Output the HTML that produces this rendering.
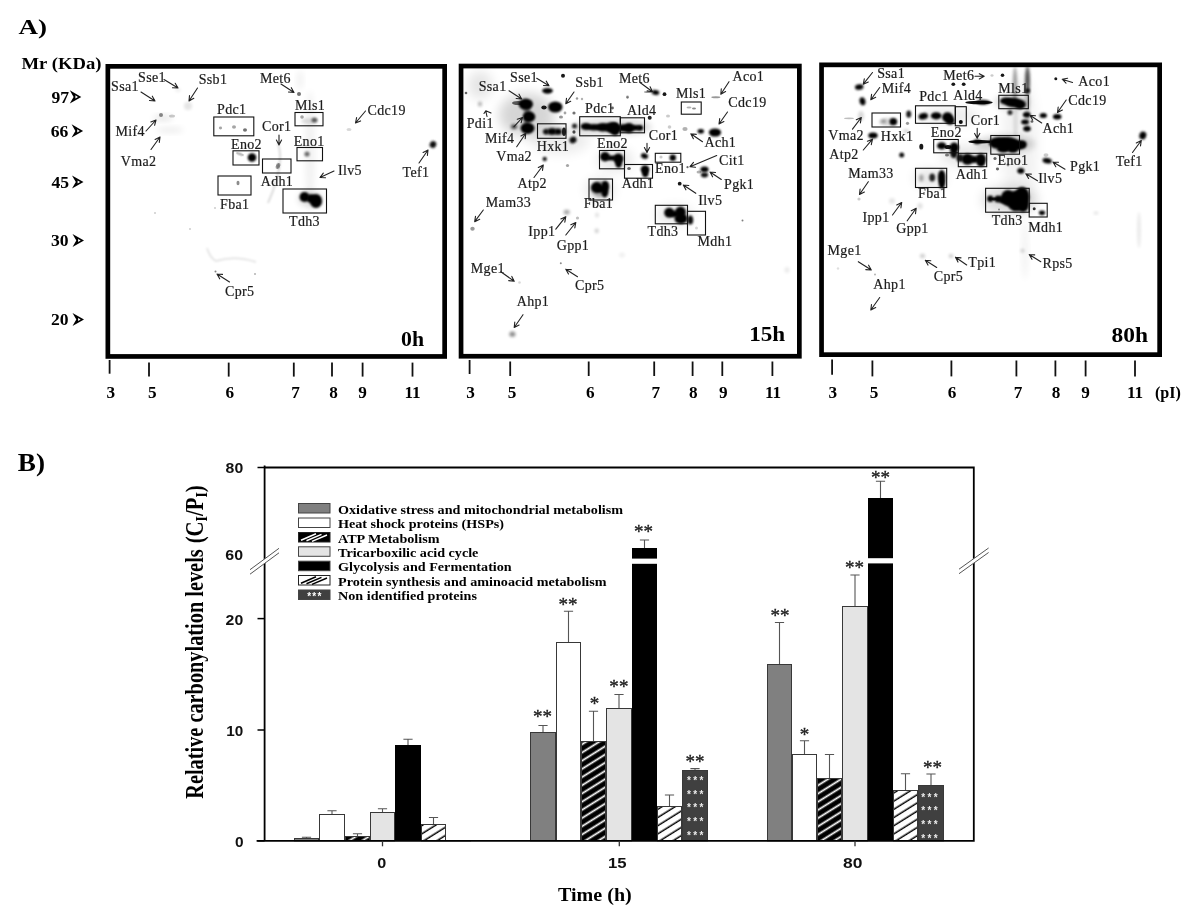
<!DOCTYPE html>
<html lang="en"><head><meta charset="utf-8"><title>Figure</title>
<style>
html,body{margin:0;padding:0;background:#fff;}
body{width:1200px;height:909px;overflow:hidden;}
svg{display:block;}
.g{font-family:"Liberation Serif","Times New Roman",serif;font-size:14px;fill:#1c1c1c;letter-spacing:0.35px;stroke:#1c1c1c;stroke-width:0.2px;}
.b{font-family:"Liberation Serif","Times New Roman",serif;font-weight:bold;fill:#000;}
.s{font-family:"Liberation Sans",Arial,sans-serif;font-weight:bold;fill:#111;}
.ar{stroke:#222;stroke-width:1.1;fill:none;stroke-linecap:round;stroke-linejoin:round;}
.bx{fill:none;stroke:#111;stroke-width:1.1;}
.st{font-family:"Liberation Serif",serif;font-size:19px;fill:#222;stroke:#222;stroke-width:0.35px;}
</style></head><body>
<svg width="1200" height="909" viewBox="0 0 1200 909">
<defs>
<filter id="b0" x="-50%" y="-50%" width="200%" height="200%"><feGaussianBlur stdDeviation="0.5"/></filter>
<filter id="b1" x="-50%" y="-50%" width="200%" height="200%"><feGaussianBlur stdDeviation="0.85"/></filter>
<filter id="b2" x="-50%" y="-50%" width="200%" height="200%"><feGaussianBlur stdDeviation="1.4"/></filter>
<filter id="b3" x="-50%" y="-50%" width="200%" height="200%"><feGaussianBlur stdDeviation="3"/></filter>
<filter id="b4" x="-50%" y="-50%" width="200%" height="200%"><feGaussianBlur stdDeviation="6"/></filter>
<pattern id="hb" width="40" height="6.95" patternUnits="userSpaceOnUse" patternTransform="translate(581 741) rotate(-32)">
<rect width="40" height="6.95" fill="#000"/><rect y="2.5" width="40" height="1.8" fill="#fff"/></pattern>
<pattern id="hw" width="40" height="6.95" patternUnits="userSpaceOnUse" patternTransform="translate(657 806) rotate(-32)">
<rect width="40" height="6.95" fill="#fff"/><rect y="2.5" width="40" height="1.5" fill="#000"/></pattern>
</defs>
<rect width="1200" height="909" fill="#fff"/>

<text class="b" x="18.5" y="34.0" font-size="21.5px" textLength="28.5" lengthAdjust="spacingAndGlyphs">A)</text>
<text class="b" x="17.8" y="471.3" font-size="24.5px" textLength="27.2" lengthAdjust="spacingAndGlyphs">B)</text>
<text class="b" x="21.5" y="69.3" font-size="16.5px" textLength="80" lengthAdjust="spacingAndGlyphs">Mr (KDa)</text>
<text class="b" x="51.5" y="102.7" font-size="17.6px">97</text>
<path d="M69.8,90.3L81.3,96.9L69.8,103.5L73.6,96.9Z M75.4,95.3L78.0,96.9L75.4,98.5Z" fill="#000" fill-rule="evenodd"/>
<text class="b" x="50.7" y="136.7" font-size="17.6px">66</text>
<path d="M71.6,124.3L83.1,130.9L71.6,137.5L75.4,130.9Z M77.2,129.3L79.8,130.9L77.2,132.5Z" fill="#000" fill-rule="evenodd"/>
<text class="b" x="51.5" y="187.8" font-size="17.6px">45</text>
<path d="M72.0,175.4L83.5,182.0L72.0,188.6L75.8,182.0Z M77.6,180.4L80.2,182.0L77.6,183.6Z" fill="#000" fill-rule="evenodd"/>
<text class="b" x="51.0" y="246.3" font-size="17.6px">30</text>
<path d="M72.5,233.9L84.0,240.5L72.5,247.1L76.3,240.5Z M78.1,238.9L80.7,240.5L78.1,242.1Z" fill="#000" fill-rule="evenodd"/>
<text class="b" x="51.0" y="325.3" font-size="17.6px">20</text>
<path d="M72.5,312.9L84.0,319.5L72.5,326.1L76.3,319.5Z M78.1,317.9L80.7,319.5L78.1,321.1Z" fill="#000" fill-rule="evenodd"/>
<clipPath id="cp"><rect x="108" y="66" width="337" height="291"/><rect x="461" y="66" width="339" height="291"/><rect x="821" y="65" width="339" height="290"/></clipPath>
<g id="gels" clip-path="url(#cp)">
<ellipse cx="163.0" cy="118.0" rx="10.0" ry="3.0" fill="#000" opacity="0.1" filter="url(#b3)"/>
<ellipse cx="170.0" cy="130.0" rx="14.0" ry="3.0" fill="#000" opacity="0.07" filter="url(#b3)"/>
<ellipse cx="188.0" cy="106.0" rx="4.0" ry="4.0" fill="#000" opacity="0.1" filter="url(#b2)"/>
<ellipse cx="178.0" cy="90.0" rx="3.0" ry="2.0" fill="#000" opacity="0.06" filter="url(#b2)"/>
<ellipse cx="310.0" cy="150.0" rx="5.0" ry="60.0" fill="#000" opacity="0.05" filter="url(#b3)"/>
<ellipse cx="300.0" cy="80.0" rx="3.0" ry="10.0" fill="#000" opacity="0.06" filter="url(#b3)"/>
<path d="M278,143 Q285,165 268,203" stroke="#000" stroke-opacity="0.16" stroke-width="1.8" fill="none" filter="url(#b1)"/>
<path d="M207,248 Q210,258 216,261 Q235,255 256,262" stroke="#000" stroke-opacity="0.13" stroke-width="1.5" fill="none" filter="url(#b1)"/>
<ellipse cx="527.0" cy="115.0" rx="28.0" ry="22.0" fill="#000" opacity="0.16" filter="url(#b4)"/>
<ellipse cx="612.0" cy="127.0" rx="40.0" ry="8.0" fill="#000" opacity="0.14" filter="url(#b3)"/>
<ellipse cx="480.0" cy="85.0" rx="12.0" ry="14.0" fill="#000" opacity="0.1" filter="url(#b4)"/>
<ellipse cx="560.0" cy="140.0" rx="30.0" ry="14.0" fill="#000" opacity="0.07" filter="url(#b4)"/>
<ellipse cx="615.0" cy="160.0" rx="18.0" ry="12.0" fill="#000" opacity="0.09" filter="url(#b4)"/>
<ellipse cx="600.0" cy="190.0" rx="14.0" ry="12.0" fill="#000" opacity="0.1" filter="url(#b4)"/>
<ellipse cx="675.0" cy="215.0" rx="18.0" ry="9.0" fill="#000" opacity="0.1" filter="url(#b4)"/>
<ellipse cx="1015.0" cy="84.0" rx="2.2" ry="17.0" fill="#000" opacity="0.36" filter="url(#b2)"/>
<ellipse cx="1015.5" cy="120.0" rx="2.0" ry="20.0" fill="#000" opacity="0.1" filter="url(#b2)"/>
<ellipse cx="1027.5" cy="80.0" rx="2.4" ry="14.0" fill="#000" opacity="0.62" filter="url(#b2)"/>
<ellipse cx="1027.5" cy="100.0" rx="2.2" ry="30.0" fill="#000" opacity="0.2" filter="url(#b2)"/>
<ellipse cx="1020.0" cy="145.0" rx="18.0" ry="70.0" fill="#000" opacity="0.05" filter="url(#b4)"/>
<ellipse cx="1005.0" cy="144.0" rx="30.0" ry="9.0" fill="#000" opacity="0.16" filter="url(#b3)"/>
<ellipse cx="1010.0" cy="200.0" rx="28.0" ry="14.0" fill="#000" opacity="0.14" filter="url(#b4)"/>
<ellipse cx="1012.0" cy="102.0" rx="18.0" ry="7.0" fill="#000" opacity="0.14" filter="url(#b3)"/>
<ellipse cx="950.0" cy="116.0" rx="30.0" ry="8.0" fill="#000" opacity="0.08" filter="url(#b4)"/>
<ellipse cx="965.0" cy="156.0" rx="25.0" ry="10.0" fill="#000" opacity="0.1" filter="url(#b4)"/>
<ellipse cx="930.0" cy="178.0" rx="16.0" ry="9.0" fill="#000" opacity="0.1" filter="url(#b4)"/>
<ellipse cx="1139.0" cy="230.0" rx="2.0" ry="18.0" fill="#000" opacity="0.08" filter="url(#b2)"/>
<ellipse cx="1025.0" cy="250.0" rx="3.0" ry="30.0" fill="#000" opacity="0.05" filter="url(#b3)"/>
<ellipse cx="304.5" cy="197.0" rx="5.0" ry="5.0" fill="#000" opacity="1" filter="url(#b1)"/>
<ellipse cx="316.0" cy="201.0" rx="6.1" ry="7.0" fill="#000" opacity="1" filter="url(#b1)"/>
<ellipse cx="311.0" cy="198.5" rx="4.7" ry="4.2" fill="#000" opacity="1" filter="url(#b1)"/>
<ellipse cx="310.0" cy="199.0" rx="12.0" ry="8.0" fill="#000" opacity="0.12" filter="url(#b3)"/>
<ellipse cx="252.0" cy="157.5" rx="4.3" ry="4.3" fill="#000" opacity="1" filter="url(#b1)"/>
<ellipse cx="240.0" cy="154.0" rx="4.0" ry="1.5" fill="#000" opacity="0.25" filter="url(#b0)" transform="rotate(20 240.0 154.0)"/>
<ellipse cx="433.0" cy="144.5" rx="3.2" ry="3.6" fill="#000" opacity="0.95" filter="url(#b1)" transform="rotate(30 433.0 144.5)"/>
<ellipse cx="314.5" cy="120.0" rx="3.0" ry="2.6" fill="#000" opacity="0.6" filter="url(#b1)"/>
<ellipse cx="302.0" cy="117.0" rx="1.8" ry="1.8" fill="#000" opacity="0.35" filter="url(#b0)"/>
<ellipse cx="309.0" cy="121.0" rx="8.0" ry="3.0" fill="#000" opacity="0.12" filter="url(#b2)"/>
<ellipse cx="220.5" cy="128.0" rx="1.6" ry="1.4" fill="#000" opacity="0.35" filter="url(#b0)"/>
<ellipse cx="234.0" cy="127.0" rx="2.0" ry="1.7" fill="#000" opacity="0.35" filter="url(#b0)"/>
<ellipse cx="245.0" cy="130.0" rx="2.0" ry="1.8" fill="#000" opacity="0.55" filter="url(#b0)"/>
<ellipse cx="307.0" cy="154.0" rx="2.6" ry="2.6" fill="#000" opacity="0.55" filter="url(#b1)"/>
<ellipse cx="278.0" cy="166.0" rx="2.0" ry="3.0" fill="#000" opacity="0.5" filter="url(#b0)" transform="rotate(20 278.0 166.0)"/>
<ellipse cx="238.0" cy="183.0" rx="1.5" ry="2.2" fill="#000" opacity="0.45" filter="url(#b0)"/>
<ellipse cx="299.0" cy="94.0" rx="2.0" ry="2.0" fill="#000" opacity="0.55" filter="url(#b0)"/>
<ellipse cx="161.0" cy="115.0" rx="2.0" ry="2.0" fill="#000" opacity="0.45" filter="url(#b0)"/>
<ellipse cx="172.0" cy="116.0" rx="3.0" ry="1.5" fill="#000" opacity="0.2" filter="url(#b0)"/>
<ellipse cx="349.0" cy="129.5" rx="2.5" ry="1.5" fill="#000" opacity="0.15" filter="url(#b0)"/>
<ellipse cx="215.5" cy="271.5" rx="1.0" ry="1.0" fill="#000" opacity="0.5" filter="url(#b0)"/>
<ellipse cx="255.0" cy="274.0" rx="1.0" ry="1.0" fill="#000" opacity="0.3" filter="url(#b0)"/>
<ellipse cx="215.0" cy="208.0" rx="1.0" ry="1.0" fill="#000" opacity="0.2" filter="url(#b0)"/>
<ellipse cx="155.0" cy="213.0" rx="1.0" ry="1.0" fill="#000" opacity="0.2" filter="url(#b0)"/>
<ellipse cx="190.0" cy="229.0" rx="1.0" ry="1.0" fill="#000" opacity="0.2" filter="url(#b0)"/>
<ellipse cx="547.5" cy="90.8" rx="5.4" ry="2.9" fill="#000" opacity="1" filter="url(#b1)"/>
<ellipse cx="525.8" cy="104.2" rx="7.2" ry="5.6" fill="#000" opacity="1" filter="url(#b1)"/>
<ellipse cx="518.0" cy="103.0" rx="6.0" ry="2.0" fill="#000" opacity="0.6" filter="url(#b0)"/>
<ellipse cx="555.3" cy="107.0" rx="7.2" ry="5.6" fill="#000" opacity="1" filter="url(#b1)"/>
<ellipse cx="544.0" cy="107.5" rx="2.7" ry="2.0" fill="#000" opacity="0.9" filter="url(#b0)"/>
<ellipse cx="529.0" cy="116.7" rx="6.3" ry="5.4" fill="#000" opacity="1" filter="url(#b1)"/>
<ellipse cx="527.5" cy="128.3" rx="7.0" ry="5.6" fill="#000" opacity="1" filter="url(#b1)"/>
<ellipse cx="514.0" cy="126.7" rx="3.0" ry="2.2" fill="#000" opacity="0.75" filter="url(#b2)"/>
<ellipse cx="527.0" cy="110.0" rx="3.0" ry="8.0" fill="#000" opacity="0.5" filter="url(#b2)"/>
<ellipse cx="527.0" cy="122.0" rx="3.0" ry="6.0" fill="#000" opacity="0.5" filter="url(#b2)"/>
<ellipse cx="563.0" cy="75.8" rx="2.0" ry="2.0" fill="#000" opacity="0.9" filter="url(#b0)"/>
<ellipse cx="574.0" cy="113.0" rx="1.6" ry="1.6" fill="#000" opacity="0.55" filter="url(#b0)"/>
<ellipse cx="574.5" cy="126.0" rx="2.5" ry="2.5" fill="#000" opacity="0.85" filter="url(#b1)"/>
<ellipse cx="574.0" cy="132.0" rx="1.6" ry="1.8" fill="#000" opacity="0.7" filter="url(#b0)"/>
<ellipse cx="573.0" cy="140.0" rx="3.6" ry="3.2" fill="#000" opacity="0.95" filter="url(#b1)" transform="rotate(-30 573.0 140.0)"/>
<ellipse cx="561.0" cy="117.0" rx="2.0" ry="1.6" fill="#000" opacity="0.4" filter="url(#b0)"/>
<ellipse cx="565.0" cy="113.0" rx="1.4" ry="1.4" fill="#000" opacity="0.35" filter="url(#b0)"/>
<ellipse cx="577.0" cy="98.5" rx="1.2" ry="1.2" fill="#000" opacity="0.4" filter="url(#b0)"/>
<ellipse cx="582.0" cy="99.0" rx="1.2" ry="1.2" fill="#000" opacity="0.3" filter="url(#b0)"/>
<ellipse cx="612.5" cy="108.0" rx="1.4" ry="1.4" fill="#000" opacity="0.6" filter="url(#b0)"/>
<ellipse cx="627.5" cy="97.0" rx="1.4" ry="1.4" fill="#000" opacity="0.35" filter="url(#b0)"/>
<ellipse cx="466.0" cy="93.0" rx="1.3" ry="1.3" fill="#000" opacity="0.6" filter="url(#b0)"/>
<ellipse cx="480.0" cy="104.0" rx="2.0" ry="2.5" fill="#000" opacity="0.3" filter="url(#b2)"/>
<ellipse cx="546.0" cy="131.7" rx="2.9" ry="2.7" fill="#000" opacity="0.9" filter="url(#b1)"/>
<ellipse cx="552.0" cy="131.5" rx="4.2" ry="3.2" fill="#000" opacity="1" filter="url(#b1)"/>
<ellipse cx="558.0" cy="131.7" rx="3.6" ry="2.9" fill="#000" opacity="1" filter="url(#b1)"/>
<ellipse cx="564.0" cy="131.7" rx="2.0" ry="4.3" fill="#000" opacity="0.85" filter="url(#b0)"/>
<ellipse cx="555.0" cy="131.5" rx="12.0" ry="4.5" fill="#000" opacity="0.25" filter="url(#b2)"/>
<ellipse cx="586.0" cy="126.5" rx="5.3" ry="3.4" fill="#000" opacity="1" filter="url(#b1)"/>
<ellipse cx="594.0" cy="127.2" rx="7.0" ry="3.2" fill="#000" opacity="1" filter="url(#b1)"/>
<ellipse cx="603.0" cy="127.3" rx="7.0" ry="4.3" fill="#000" opacity="1" filter="url(#b1)"/>
<ellipse cx="612.0" cy="127.5" rx="7.0" ry="5.6" fill="#000" opacity="1" filter="url(#b1)"/>
<ellipse cx="615.0" cy="129.0" rx="5.3" ry="6.4" fill="#000" opacity="1" filter="url(#b1)"/>
<ellipse cx="623.0" cy="128.0" rx="5.9" ry="3.8" fill="#000" opacity="1" filter="url(#b1)"/>
<ellipse cx="629.0" cy="128.0" rx="5.3" ry="5.0" fill="#000" opacity="1" filter="url(#b1)"/>
<ellipse cx="635.0" cy="127.8" rx="4.7" ry="2.7" fill="#000" opacity="1" filter="url(#b1)"/>
<ellipse cx="640.0" cy="127.8" rx="3.2" ry="2.9" fill="#000" opacity="1" filter="url(#b1)"/>
<ellipse cx="605.0" cy="156.7" rx="5.0" ry="4.7" fill="#000" opacity="1" filter="url(#b1)"/>
<ellipse cx="611.5" cy="158.0" rx="4.7" ry="2.5" fill="#000" opacity="1" filter="url(#b1)"/>
<ellipse cx="618.3" cy="158.5" rx="5.2" ry="5.0" fill="#000" opacity="1" filter="url(#b1)"/>
<ellipse cx="618.6" cy="163.0" rx="3.4" ry="5.0" fill="#000" opacity="1" filter="url(#b1)"/>
<ellipse cx="645.0" cy="169.3" rx="4.3" ry="4.1" fill="#000" opacity="1" filter="url(#b1)"/>
<ellipse cx="645.3" cy="173.0" rx="3.2" ry="4.3" fill="#000" opacity="1" filter="url(#b1)"/>
<ellipse cx="629.0" cy="168.5" rx="1.8" ry="1.6" fill="#000" opacity="0.6" filter="url(#b0)"/>
<ellipse cx="596.7" cy="187.5" rx="5.6" ry="5.4" fill="#000" opacity="1" filter="url(#b1)"/>
<ellipse cx="601.0" cy="189.0" rx="4.7" ry="3.6" fill="#000" opacity="1" filter="url(#b1)"/>
<ellipse cx="605.2" cy="186.0" rx="3.8" ry="5.2" fill="#000" opacity="1" filter="url(#b1)"/>
<ellipse cx="604.8" cy="192.0" rx="3.4" ry="5.4" fill="#000" opacity="1" filter="url(#b1)"/>
<ellipse cx="600.0" cy="189.0" rx="9.0" ry="8.0" fill="#000" opacity="0.3" filter="url(#b2)"/>
<ellipse cx="544.7" cy="159.0" rx="2.2" ry="2.2" fill="#000" opacity="0.9" filter="url(#b1)"/>
<ellipse cx="567.5" cy="165.5" rx="1.6" ry="1.6" fill="#000" opacity="0.35" filter="url(#b0)"/>
<ellipse cx="644.5" cy="156.0" rx="3.6" ry="2.7" fill="#000" opacity="1" filter="url(#b1)" transform="rotate(20 644.5 156.0)"/>
<ellipse cx="672.8" cy="157.8" rx="3.2" ry="3.2" fill="#000" opacity="1" filter="url(#b1)"/>
<ellipse cx="661.0" cy="157.0" rx="1.6" ry="1.6" fill="#000" opacity="0.2" filter="url(#b0)"/>
<ellipse cx="655.5" cy="92.5" rx="3.8" ry="2.4" fill="#000" opacity="1" filter="url(#b1)" transform="rotate(10 655.5 92.5)"/>
<ellipse cx="648.0" cy="92.0" rx="4.0" ry="1.0" fill="#000" opacity="0.4" filter="url(#b0)"/>
<ellipse cx="664.5" cy="94.2" rx="1.9" ry="1.9" fill="#000" opacity="0.9" filter="url(#b0)"/>
<ellipse cx="627.5" cy="97.5" rx="1.2" ry="1.2" fill="#000" opacity="0.3" filter="url(#b0)"/>
<ellipse cx="689.0" cy="107.5" rx="2.5" ry="0.9" fill="#000" opacity="0.3" filter="url(#b0)"/>
<ellipse cx="694.0" cy="108.5" rx="2.0" ry="1.0" fill="#000" opacity="0.45" filter="url(#b0)"/>
<ellipse cx="715.8" cy="97.2" rx="4.5" ry="1.0" fill="#000" opacity="0.4" filter="url(#b0)"/>
<ellipse cx="715.0" cy="132.5" rx="6.1" ry="4.1" fill="#000" opacity="1" filter="url(#b1)"/>
<ellipse cx="700.8" cy="131.2" rx="3.2" ry="2.3" fill="#000" opacity="1" filter="url(#b1)"/>
<ellipse cx="685.0" cy="129.0" rx="2.6" ry="2.0" fill="#000" opacity="0.3" filter="url(#b0)"/>
<ellipse cx="649.7" cy="117.8" rx="2.0" ry="2.0" fill="#000" opacity="0.85" filter="url(#b0)"/>
<ellipse cx="668.0" cy="116.0" rx="2.0" ry="1.6" fill="#000" opacity="0.2" filter="url(#b0)"/>
<ellipse cx="669.5" cy="127.0" rx="1.8" ry="1.8" fill="#000" opacity="0.2" filter="url(#b0)"/>
<ellipse cx="704.5" cy="169.3" rx="4.1" ry="2.9" fill="#000" opacity="1" filter="url(#b1)"/>
<ellipse cx="704.5" cy="175.0" rx="3.6" ry="2.4" fill="#000" opacity="0.95" filter="url(#b1)"/>
<ellipse cx="699.0" cy="172.0" rx="2.5" ry="1.5" fill="#000" opacity="0.3" filter="url(#b0)"/>
<ellipse cx="679.7" cy="183.7" rx="1.9" ry="1.9" fill="#000" opacity="0.9" filter="url(#b0)"/>
<ellipse cx="687.5" cy="167.2" rx="1.1" ry="1.1" fill="#000" opacity="0.6" filter="url(#b0)"/>
<ellipse cx="669.2" cy="212.8" rx="5.0" ry="5.0" fill="#000" opacity="1" filter="url(#b1)"/>
<ellipse cx="674.5" cy="214.0" rx="4.7" ry="3.2" fill="#000" opacity="1" filter="url(#b1)"/>
<ellipse cx="680.5" cy="212.0" rx="5.4" ry="5.4" fill="#000" opacity="1" filter="url(#b1)"/>
<ellipse cx="681.0" cy="218.5" rx="6.5" ry="5.4" fill="#000" opacity="1" filter="url(#b1)"/>
<ellipse cx="690.3" cy="220.0" rx="2.9" ry="4.5" fill="#000" opacity="0.95" filter="url(#b1)"/>
<ellipse cx="742.5" cy="220.5" rx="1.0" ry="1.0" fill="#000" opacity="0.5" filter="url(#b0)"/>
<ellipse cx="696.5" cy="228.0" rx="1.5" ry="1.5" fill="#000" opacity="0.15" filter="url(#b0)"/>
<ellipse cx="472.5" cy="228.7" rx="2.2" ry="2.0" fill="#000" opacity="0.4" filter="url(#b0)"/>
<ellipse cx="566.7" cy="212.2" rx="3.0" ry="2.4" fill="#000" opacity="0.35" filter="url(#b2)"/>
<ellipse cx="577.5" cy="218.0" rx="1.6" ry="1.6" fill="#000" opacity="0.25" filter="url(#b0)"/>
<ellipse cx="596.7" cy="230.8" rx="2.0" ry="2.4" fill="#000" opacity="0.2" filter="url(#b2)"/>
<ellipse cx="597.0" cy="215.0" rx="1.8" ry="2.5" fill="#000" opacity="0.13" filter="url(#b2)"/>
<ellipse cx="560.8" cy="263.3" rx="1.0" ry="1.0" fill="#000" opacity="0.45" filter="url(#b0)"/>
<ellipse cx="519.5" cy="282.5" rx="1.3" ry="1.3" fill="#000" opacity="0.15" filter="url(#b0)"/>
<ellipse cx="512.4" cy="334.2" rx="3.0" ry="2.6" fill="#000" opacity="0.45" filter="url(#b2)"/>
<ellipse cx="622.0" cy="255.0" rx="3.0" ry="2.5" fill="#000" opacity="0.06" filter="url(#b2)"/>
<ellipse cx="787.0" cy="270.0" rx="2.5" ry="3.0" fill="#000" opacity="0.08" filter="url(#b2)"/>
<ellipse cx="859.2" cy="87.0" rx="4.3" ry="2.8" fill="#000" opacity="1" filter="url(#b1)" transform="rotate(-8 859.2 87.0)"/>
<ellipse cx="862.5" cy="101.3" rx="2.9" ry="4.1" fill="#000" opacity="1" filter="url(#b1)" transform="rotate(-15 862.5 101.3)"/>
<ellipse cx="849.0" cy="118.3" rx="5.0" ry="0.9" fill="#000" opacity="0.25" filter="url(#b0)"/>
<ellipse cx="861.0" cy="116.0" rx="3.0" ry="5.0" fill="#000" opacity="0.15" filter="url(#b2)"/>
<ellipse cx="873.0" cy="135.5" rx="4.7" ry="2.9" fill="#000" opacity="1" filter="url(#b1)"/>
<ellipse cx="893.3" cy="121.7" rx="3.8" ry="3.6" fill="#000" opacity="1" filter="url(#b1)"/>
<ellipse cx="883.5" cy="121.3" rx="2.6" ry="2.0" fill="#000" opacity="0.35" filter="url(#b2)"/>
<ellipse cx="888.0" cy="122.0" rx="9.0" ry="4.0" fill="#000" opacity="0.15" filter="url(#b2)"/>
<ellipse cx="908.7" cy="114.2" rx="2.5" ry="3.6" fill="#000" opacity="0.9" filter="url(#b1)"/>
<ellipse cx="907.5" cy="123.3" rx="1.6" ry="1.6" fill="#000" opacity="0.4" filter="url(#b0)"/>
<ellipse cx="906.0" cy="131.0" rx="3.0" ry="2.0" fill="#000" opacity="0.15" filter="url(#b2)"/>
<ellipse cx="923.3" cy="116.3" rx="4.7" ry="3.2" fill="#000" opacity="1" filter="url(#b1)" transform="rotate(-12 923.3 116.3)"/>
<ellipse cx="936.2" cy="115.8" rx="5.4" ry="3.6" fill="#000" opacity="1" filter="url(#b1)"/>
<ellipse cx="947.5" cy="117.2" rx="5.4" ry="5.0" fill="#000" opacity="1" filter="url(#b1)"/>
<ellipse cx="950.0" cy="120.5" rx="4.5" ry="4.3" fill="#000" opacity="1" filter="url(#b1)"/>
<ellipse cx="960.8" cy="122.0" rx="2.0" ry="2.0" fill="#000" opacity="0.95" filter="url(#b0)"/>
<ellipse cx="953.3" cy="84.2" rx="1.9" ry="1.7" fill="#000" opacity="0.9" filter="url(#b0)"/>
<ellipse cx="963.7" cy="84.2" rx="1.9" ry="1.7" fill="#000" opacity="0.9" filter="url(#b0)"/>
<ellipse cx="1002.5" cy="75.3" rx="1.8" ry="1.8" fill="#000" opacity="0.9" filter="url(#b0)"/>
<ellipse cx="992.0" cy="75.5" rx="1.6" ry="1.2" fill="#000" opacity="0.2" filter="url(#b0)"/>
<ellipse cx="979.0" cy="102.5" rx="13.7" ry="1.7" fill="#000" opacity="0.95" filter="url(#b0)"/>
<ellipse cx="983.0" cy="102.3" rx="7.0" ry="2.5" fill="#000" opacity="0.9" filter="url(#b1)"/>
<ellipse cx="1006.0" cy="101.0" rx="5.9" ry="3.6" fill="#000" opacity="1" filter="url(#b1)"/>
<ellipse cx="1013.0" cy="102.5" rx="8.1" ry="4.7" fill="#000" opacity="1" filter="url(#b1)"/>
<ellipse cx="1020.0" cy="104.5" rx="5.9" ry="4.7" fill="#000" opacity="1" filter="url(#b1)"/>
<ellipse cx="1027.5" cy="90.8" rx="2.5" ry="2.5" fill="#000" opacity="0.9" filter="url(#b1)"/>
<ellipse cx="1010.0" cy="112.5" rx="2.5" ry="2.5" fill="#000" opacity="0.85" filter="url(#b1)"/>
<ellipse cx="1026.7" cy="114.7" rx="3.8" ry="2.7" fill="#000" opacity="1" filter="url(#b1)"/>
<ellipse cx="1025.0" cy="122.0" rx="3.8" ry="2.5" fill="#000" opacity="1" filter="url(#b1)"/>
<ellipse cx="1027.0" cy="128.7" rx="3.8" ry="2.7" fill="#000" opacity="1" filter="url(#b1)"/>
<ellipse cx="1032.0" cy="121.5" rx="1.4" ry="1.2" fill="#000" opacity="0.6" filter="url(#b0)"/>
<ellipse cx="1043.3" cy="115.5" rx="3.6" ry="2.5" fill="#000" opacity="1" filter="url(#b1)"/>
<ellipse cx="1057.2" cy="116.7" rx="4.3" ry="2.7" fill="#000" opacity="1" filter="url(#b1)"/>
<ellipse cx="1055.8" cy="78.7" rx="1.5" ry="1.5" fill="#000" opacity="0.9" filter="url(#b0)"/>
<ellipse cx="1142.8" cy="135.5" rx="3.4" ry="4.1" fill="#000" opacity="1" filter="url(#b1)" transform="rotate(20 1142.8 135.5)"/>
<ellipse cx="941.7" cy="145.8" rx="4.7" ry="3.6" fill="#000" opacity="1" filter="url(#b1)"/>
<ellipse cx="948.0" cy="147.0" rx="3.6" ry="2.0" fill="#000" opacity="0.9" filter="url(#b0)"/>
<ellipse cx="954.2" cy="147.5" rx="4.7" ry="5.0" fill="#000" opacity="1" filter="url(#b1)"/>
<ellipse cx="953.8" cy="153.5" rx="3.6" ry="4.7" fill="#000" opacity="0.95" filter="url(#b1)"/>
<ellipse cx="947.0" cy="155.0" rx="2.0" ry="1.6" fill="#000" opacity="0.5" filter="url(#b0)"/>
<ellipse cx="921.3" cy="146.7" rx="2.0" ry="2.9" fill="#000" opacity="0.9" filter="url(#b0)"/>
<ellipse cx="901.7" cy="155.0" rx="2.5" ry="2.5" fill="#000" opacity="0.95" filter="url(#b1)"/>
<ellipse cx="967.5" cy="159.2" rx="5.9" ry="5.6" fill="#000" opacity="1" filter="url(#b1)"/>
<ellipse cx="974.0" cy="159.5" rx="4.7" ry="3.6" fill="#000" opacity="1" filter="url(#b1)"/>
<ellipse cx="980.8" cy="159.2" rx="5.2" ry="5.6" fill="#000" opacity="1" filter="url(#b1)"/>
<ellipse cx="981.0" cy="163.0" rx="3.6" ry="3.6" fill="#000" opacity="1" filter="url(#b1)"/>
<ellipse cx="960.0" cy="158.0" rx="3.6" ry="4.1" fill="#000" opacity="0.9" filter="url(#b1)"/>
<ellipse cx="981.0" cy="141.8" rx="12.6" ry="1.7" fill="#000" opacity="0.95" filter="url(#b0)"/>
<ellipse cx="977.0" cy="141.8" rx="3.6" ry="2.5" fill="#000" opacity="0.9" filter="url(#b1)"/>
<ellipse cx="999.0" cy="143.0" rx="10.3" ry="5.9" fill="#000" opacity="1" filter="url(#b1)"/>
<ellipse cx="1008.0" cy="144.0" rx="10.3" ry="7.0" fill="#000" opacity="1" filter="url(#b1)"/>
<ellipse cx="1016.0" cy="145.0" rx="8.1" ry="5.2" fill="#000" opacity="1" filter="url(#b1)"/>
<ellipse cx="1022.5" cy="144.5" rx="4.3" ry="4.1" fill="#000" opacity="1" filter="url(#b1)"/>
<ellipse cx="1003.0" cy="149.0" rx="5.9" ry="3.6" fill="#000" opacity="1" filter="url(#b1)"/>
<ellipse cx="1013.0" cy="149.5" rx="4.7" ry="3.2" fill="#000" opacity="1" filter="url(#b1)"/>
<ellipse cx="995.0" cy="158.5" rx="1.6" ry="1.6" fill="#000" opacity="0.6" filter="url(#b0)"/>
<ellipse cx="1047.2" cy="160.8" rx="4.7" ry="2.7" fill="#000" opacity="1" filter="url(#b1)" transform="rotate(10 1047.2 160.8)"/>
<ellipse cx="1046.0" cy="155.0" rx="2.5" ry="1.8" fill="#000" opacity="0.2" filter="url(#b0)"/>
<ellipse cx="1020.8" cy="170.8" rx="3.6" ry="2.9" fill="#000" opacity="1" filter="url(#b1)"/>
<ellipse cx="997.5" cy="169.0" rx="1.6" ry="1.4" fill="#000" opacity="0.6" filter="url(#b0)"/>
<ellipse cx="1008.0" cy="165.0" rx="1.4" ry="1.4" fill="#000" opacity="0.4" filter="url(#b0)"/>
<ellipse cx="921.3" cy="178.0" rx="2.0" ry="3.4" fill="#000" opacity="0.35" filter="url(#b2)"/>
<ellipse cx="932.2" cy="177.5" rx="2.9" ry="4.1" fill="#000" opacity="0.85" filter="url(#b1)"/>
<ellipse cx="941.7" cy="177.0" rx="3.8" ry="7.0" fill="#000" opacity="1" filter="url(#b1)"/>
<ellipse cx="941.9" cy="183.5" rx="3.2" ry="5.2" fill="#000" opacity="1" filter="url(#b1)"/>
<ellipse cx="990.3" cy="198.7" rx="3.2" ry="3.2" fill="#000" opacity="1" filter="url(#b1)"/>
<ellipse cx="998.3" cy="199.0" rx="4.1" ry="3.6" fill="#000" opacity="1" filter="url(#b1)"/>
<ellipse cx="994.0" cy="199.0" rx="3.0" ry="1.4" fill="#000" opacity="0.8" filter="url(#b0)"/>
<ellipse cx="1008.0" cy="198.0" rx="7.0" ry="8.1" fill="#000" opacity="1" filter="url(#b1)"/>
<ellipse cx="1016.0" cy="201.0" rx="9.2" ry="10.3" fill="#000" opacity="1" filter="url(#b1)"/>
<ellipse cx="1022.0" cy="197.0" rx="7.5" ry="10.3" fill="#000" opacity="1" filter="url(#b1)"/>
<ellipse cx="1023.0" cy="205.0" rx="5.9" ry="7.0" fill="#000" opacity="1" filter="url(#b1)"/>
<ellipse cx="1003.0" cy="200.0" rx="3.6" ry="3.6" fill="#000" opacity="1" filter="url(#b1)"/>
<ellipse cx="999.0" cy="209.5" rx="1.0" ry="1.0" fill="#000" opacity="0.4" filter="url(#b0)"/>
<ellipse cx="1034.2" cy="208.7" rx="1.5" ry="1.5" fill="#000" opacity="0.8" filter="url(#b0)"/>
<ellipse cx="1042.0" cy="212.8" rx="3.1" ry="2.4" fill="#000" opacity="1" filter="url(#b1)"/>
<ellipse cx="859.0" cy="199.0" rx="1.6" ry="1.6" fill="#000" opacity="0.2" filter="url(#b0)"/>
<ellipse cx="892.0" cy="201.0" rx="3.0" ry="3.0" fill="#000" opacity="0.1" filter="url(#b2)"/>
<ellipse cx="920.0" cy="206.0" rx="2.5" ry="3.0" fill="#000" opacity="0.12" filter="url(#b2)"/>
<ellipse cx="922.5" cy="256.0" rx="2.6" ry="2.2" fill="#000" opacity="0.2" filter="url(#b2)"/>
<ellipse cx="951.0" cy="256.0" rx="2.2" ry="2.0" fill="#000" opacity="0.22" filter="url(#b2)"/>
<ellipse cx="1022.5" cy="250.8" rx="2.0" ry="2.0" fill="#000" opacity="0.18" filter="url(#b2)"/>
<ellipse cx="875.0" cy="274.5" rx="1.0" ry="1.0" fill="#000" opacity="0.3" filter="url(#b0)"/>
<ellipse cx="1096.0" cy="213.0" rx="2.5" ry="1.5" fill="#000" opacity="0.12" filter="url(#b2)"/>
<ellipse cx="838.0" cy="268.5" rx="1.2" ry="1.2" fill="#000" opacity="0.12" filter="url(#b0)"/>
</g>
<g id="frames">
<rect x="107.85" y="66.35" width="336.80" height="290.10" fill="none" stroke="#000" stroke-width="4.7"/>
<rect x="461.05" y="66.05" width="338.30" height="290.20" fill="none" stroke="#000" stroke-width="4.7"/>
<rect x="821.55" y="64.85" width="338.10" height="289.80" fill="none" stroke="#000" stroke-width="4.7"/>
</g>
<g id="boxes">
<rect class="bx" x="213.8" y="117.0" width="40.0" height="18.8"/>
<rect class="bx" x="295.0" y="112.5" width="28.0" height="13.3"/>
<rect class="bx" x="233.0" y="150.8" width="26.0" height="14.2"/>
<rect class="bx" x="262.5" y="159.0" width="28.5" height="14.0"/>
<rect class="bx" x="297.0" y="147.5" width="25.5" height="13.3"/>
<rect class="bx" x="218.0" y="176.0" width="33.0" height="19.0"/>
<rect class="bx" x="283.0" y="189.0" width="43.5" height="24.0"/>
<rect class="bx" x="537.5" y="123.8" width="28.5" height="14.5"/>
<rect class="bx" x="579.7" y="116.7" width="40.6" height="19.1"/>
<rect class="bx" x="620.3" y="117.8" width="24.2" height="15.0"/>
<rect class="bx" x="599.5" y="150.5" width="25.0" height="18.3"/>
<rect class="bx" x="624.5" y="164.5" width="28.0" height="13.7"/>
<rect class="bx" x="589.0" y="179.0" width="23.5" height="21.0"/>
<rect class="bx" x="681.3" y="102.0" width="19.9" height="12.2"/>
<rect class="bx" x="655.3" y="153.3" width="25.5" height="8.9"/>
<rect class="bx" x="655.3" y="205.3" width="32.2" height="18.5"/>
<rect class="bx" x="687.5" y="211.3" width="18.0" height="23.7"/>
<rect class="bx" x="872.0" y="113.0" width="28.5" height="14.0"/>
<rect class="bx" x="915.5" y="105.8" width="39.8" height="17.5"/>
<rect class="bx" x="955.3" y="106.7" width="11.0" height="19.1"/>
<rect class="bx" x="933.7" y="139.5" width="24.6" height="13.3"/>
<rect class="bx" x="958.3" y="153.3" width="28.4" height="13.4"/>
<rect class="bx" x="998.8" y="95.3" width="29.5" height="13.4"/>
<rect class="bx" x="990.8" y="135.5" width="28.7" height="18.7"/>
<rect class="bx" x="915.5" y="168.3" width="31.2" height="19.2"/>
<rect class="bx" x="985.6" y="188.3" width="43.6" height="23.9"/>
<rect class="bx" x="1029.2" y="203.3" width="18.0" height="13.7"/>
</g>
<g id="labels">
<text class="g" x="111.0" y="91.0">Ssa1</text>
<text class="g" x="138.0" y="82.0">Sse1</text>
<text class="g" x="198.7" y="83.7">Ssb1</text>
<text class="g" x="260.0" y="83.0">Met6</text>
<text class="g" x="217.0" y="114.0">Pdc1</text>
<text class="g" x="295.0" y="110.0">Mls1</text>
<text class="g" x="262.0" y="130.5">Cor1</text>
<text class="g" x="367.5" y="115.0">Cdc19</text>
<text class="g" x="231.0" y="148.7">Eno2</text>
<text class="g" x="293.7" y="145.5">Eno1</text>
<text class="g" x="260.7" y="185.7">Adh1</text>
<text class="g" x="338.0" y="175.0">Ilv5</text>
<text class="g" x="402.5" y="177.0">Tef1</text>
<text class="g" x="220.0" y="208.7">Fba1</text>
<text class="g" x="289.0" y="226.0">Tdh3</text>
<text class="g" x="115.5" y="136.0">Mif4</text>
<text class="g" x="120.7" y="166.0">Vma2</text>
<text class="g" x="225.0" y="295.5">Cpr5</text>
<text class="g" x="510.0" y="82.0">Sse1</text>
<text class="g" x="478.7" y="90.5">Ssa1</text>
<text class="g" x="575.3" y="87.0">Ssb1</text>
<text class="g" x="619.0" y="82.8">Met6</text>
<text class="g" x="466.7" y="127.5">Pdi1</text>
<text class="g" x="485.0" y="142.5">Mif4</text>
<text class="g" x="496.3" y="161.3">Vma2</text>
<text class="g" x="536.7" y="150.5">Hxk1</text>
<text class="g" x="585.0" y="113.3">Pdc1</text>
<text class="g" x="627.0" y="115.0">Ald4</text>
<text class="g" x="597.0" y="148.3">Eno2</text>
<text class="g" x="517.5" y="187.5">Atp2</text>
<text class="g" x="621.7" y="187.5">Adh1</text>
<text class="g" x="732.5" y="80.8">Aco1</text>
<text class="g" x="676.0" y="98.3">Mls1</text>
<text class="g" x="728.3" y="106.7">Cdc19</text>
<text class="g" x="648.7" y="140.0">Cor1</text>
<text class="g" x="704.5" y="147.2">Ach1</text>
<text class="g" x="719.0" y="164.7">Cit1</text>
<text class="g" x="655.0" y="173.3">Eno1</text>
<text class="g" x="724.0" y="189.0">Pgk1</text>
<text class="g" x="698.3" y="204.7">Ilv5</text>
<text class="g" x="485.8" y="207.0">Mam33</text>
<text class="g" x="583.8" y="207.5">Fba1</text>
<text class="g" x="528.3" y="235.8">Ipp1</text>
<text class="g" x="556.7" y="250.0">Gpp1</text>
<text class="g" x="470.8" y="272.5">Mge1</text>
<text class="g" x="575.0" y="290.0">Cpr5</text>
<text class="g" x="516.7" y="305.8">Ahp1</text>
<text class="g" x="647.5" y="235.5">Tdh3</text>
<text class="g" x="697.5" y="245.8">Mdh1</text>
<text class="g" x="877.2" y="77.5">Ssa1</text>
<text class="g" x="881.7" y="92.5">Mif4</text>
<text class="g" x="943.3" y="80.3">Met6</text>
<text class="g" x="919.2" y="101.3">Pdc1</text>
<text class="g" x="953.3" y="100.0">Ald4</text>
<text class="g" x="998.3" y="92.5">Mls1</text>
<text class="g" x="970.8" y="124.5">Cor1</text>
<text class="g" x="828.3" y="140.0">Vma2</text>
<text class="g" x="880.8" y="141.3">Hxk1</text>
<text class="g" x="930.8" y="137.2">Eno2</text>
<text class="g" x="829.2" y="159.2">Atp2</text>
<text class="g" x="848.3" y="178.3">Mam33</text>
<text class="g" x="955.8" y="179.2">Adh1</text>
<text class="g" x="918.0" y="198.3">Fba1</text>
<text class="g" x="1078.3" y="85.8">Aco1</text>
<text class="g" x="1068.3" y="104.7">Cdc19</text>
<text class="g" x="1042.5" y="133.0">Ach1</text>
<text class="g" x="997.5" y="164.7">Eno1</text>
<text class="g" x="1070.0" y="170.8">Pgk1</text>
<text class="g" x="1115.8" y="165.8">Tef1</text>
<text class="g" x="1038.3" y="183.3">Ilv5</text>
<text class="g" x="862.5" y="221.7">Ipp1</text>
<text class="g" x="896.2" y="233.3">Gpp1</text>
<text class="g" x="827.5" y="255.0">Mge1</text>
<text class="g" x="968.3" y="267.2">Tpi1</text>
<text class="g" x="933.7" y="280.8">Cpr5</text>
<text class="g" x="873.3" y="289.2">Ahp1</text>
<text class="g" x="991.7" y="224.5">Tdh3</text>
<text class="g" x="1028.3" y="231.7">Mdh1</text>
<text class="g" x="1042.5" y="267.5">Rps5</text>
</g>
<g id="arrows">
<path class="ar" d="M164.0,79.5L178.0,88.0M172.5,87.7L178.0,88.0L175.2,83.3"/>
<path class="ar" d="M141.0,92.0L155.0,101.0M149.5,100.5L155.0,101.0L152.3,96.2"/>
<path class="ar" d="M197.5,88.0L189.0,101.0M189.5,95.5L189.0,101.0L193.8,98.3"/>
<path class="ar" d="M146.0,131.0L156.0,120.0M154.6,125.3L156.0,120.0L150.8,121.9"/>
<path class="ar" d="M151.0,149.5L160.0,137.0M159.3,142.4L160.0,137.0L155.1,139.4"/>
<path class="ar" d="M281.0,84.0L294.0,92.5M288.5,92.0L294.0,92.5L291.3,87.7"/>
<path class="ar" d="M365.5,111.0L355.5,123.0M356.6,117.6L355.5,123.0L360.6,120.9"/>
<path class="ar" d="M279.0,135.0L279.0,145.0M276.4,140.1L279.0,145.0L281.6,140.1"/>
<path class="ar" d="M334.0,171.0L320.0,177.5M323.3,173.1L320.0,177.5L325.5,177.8"/>
<path class="ar" d="M419.0,163.0L428.0,150.0M427.4,155.5L428.0,150.0L423.1,152.5"/>
<path class="ar" d="M229.5,282.0L217.0,274.0M222.5,274.4L217.0,274.0L219.7,278.8"/>
<path class="ar" d="M536.7,78.3L549.0,85.8M543.5,85.5L549.0,85.8L546.2,81.1"/>
<path class="ar" d="M509.0,90.8L521.7,99.0M516.2,98.5L521.7,99.0L519.0,94.2"/>
<path class="ar" d="M574.0,92.0L565.8,103.7M566.5,98.2L565.8,103.7L570.7,101.2"/>
<path class="ar" d="M514.0,126.7L522.5,117.5M521.1,122.8L522.5,117.5L517.3,119.3"/>
<path class="ar" d="M516.7,146.7L525.8,133.3M525.2,138.8L525.8,133.3L520.9,135.9"/>
<path class="ar" d="M534.0,177.5L543.3,165.0M542.5,170.4L543.3,165.0L538.3,167.4"/>
<path class="ar" d="M640.0,82.5L652.5,91.7M647.1,90.9L652.5,91.7L650.1,86.7"/>
<path class="ar" d="M729.0,81.7L720.8,94.2M721.3,88.7L720.8,94.2L725.6,91.6"/>
<path class="ar" d="M727.5,112.0L719.0,124.0M719.7,118.5L719.0,124.0L723.9,121.5"/>
<path class="ar" d="M647.0,143.3L647.0,152.5M644.4,147.6L647.0,152.5L649.6,147.6"/>
<path class="ar" d="M702.5,141.7L690.8,133.8M696.3,134.4L690.8,133.8L693.4,138.7"/>
<path class="ar" d="M716.7,155.5L690.0,166.7M693.5,162.4L690.0,166.7L695.5,167.2"/>
<path class="ar" d="M721.3,179.5L710.0,172.0M715.5,172.5L710.0,172.0L712.6,176.8"/>
<path class="ar" d="M695.8,193.3L683.3,185.0M688.8,185.5L683.3,185.0L685.9,189.8"/>
<path class="ar" d="M483.3,210.0L474.7,221.7M475.5,216.3L474.7,221.7L479.7,219.3"/>
<path class="ar" d="M555.8,229.2L565.8,216.7M564.8,222.1L565.8,216.7L560.8,218.9"/>
<path class="ar" d="M565.8,235.0L575.8,222.5M574.8,227.9L575.8,222.5L570.8,224.7"/>
<path class="ar" d="M500.8,271.7L514.2,281.3M508.7,280.6L514.2,281.3L511.8,276.4"/>
<path class="ar" d="M577.5,276.7L565.8,269.2M571.3,269.6L565.8,269.2L568.5,274.0"/>
<path class="ar" d="M523.0,314.7L514.2,327.5M514.8,322.0L514.2,327.5L519.1,325.0"/>
<path class="ar" d="M872.5,72.5L863.3,84.2M864.3,78.8L863.3,84.2L868.3,82.0"/>
<path class="ar" d="M879.7,87.5L870.8,99.7M871.6,94.3L870.8,99.7L875.7,97.3"/>
<path class="ar" d="M975.0,76.3L984.2,76.3M979.3,78.9L984.2,76.3L979.3,73.7"/>
<path class="ar" d="M852.5,129.2L861.3,117.5M860.4,122.9L861.3,117.5L856.3,119.8"/>
<path class="ar" d="M863.3,150.0L872.5,139.2M871.3,144.6L872.5,139.2L867.4,141.2"/>
<path class="ar" d="M977.2,128.3L977.2,138.3M974.6,133.4L977.2,138.3L979.8,133.4"/>
<path class="ar" d="M868.3,181.7L859.5,194.5M860.1,189.0L859.5,194.5L864.4,192.0"/>
<path class="ar" d="M1072.5,82.5L1062.2,79.2M1067.6,78.2L1062.2,79.2L1066.0,83.1"/>
<path class="ar" d="M1066.2,100.0L1057.5,112.5M1058.2,107.0L1057.5,112.5L1062.4,110.0"/>
<path class="ar" d="M1041.7,123.0L1030.0,115.3M1035.5,115.8L1030.0,115.3L1032.6,120.1"/>
<path class="ar" d="M1065.0,169.2L1053.0,162.0M1058.5,162.3L1053.0,162.0L1055.8,166.7"/>
<path class="ar" d="M1132.5,152.5L1141.3,140.5M1140.5,145.9L1141.3,140.5L1136.3,142.9"/>
<path class="ar" d="M1037.5,180.8L1025.8,173.8M1031.3,174.1L1025.8,173.8L1028.6,178.5"/>
<path class="ar" d="M892.5,215.0L901.7,202.5M900.9,207.9L901.7,202.5L896.7,204.9"/>
<path class="ar" d="M907.2,220.8L916.2,208.3M915.5,213.7L916.2,208.3L911.3,210.7"/>
<path class="ar" d="M858.3,261.7L871.3,270.0M865.8,269.6L871.3,270.0L868.6,265.2"/>
<path class="ar" d="M936.7,267.5L925.3,260.3M930.8,260.7L925.3,260.3L928.0,265.1"/>
<path class="ar" d="M966.7,265.0L955.5,257.2M961.0,257.9L955.5,257.2L958.0,262.1"/>
<path class="ar" d="M879.7,297.5L870.8,310.0M871.5,304.5L870.8,310.0L875.7,307.5"/>
<path class="ar" d="M1040.8,261.7L1029.2,254.5M1034.7,254.9L1029.2,254.5L1032.0,259.3"/>
<path class="ar" d="M487,116.5L485.8,111 M484,113.5L485.8,110.8L491,113"/>
</g>
<text class="b" x="401.0" y="345.5" font-size="21px" textLength="23" lengthAdjust="spacingAndGlyphs">0h</text>
<text class="b" x="749.2" y="341.2" font-size="21px" textLength="36" lengthAdjust="spacingAndGlyphs">15h</text>
<text class="b" x="1111.6" y="342.2" font-size="21px" textLength="36.5" lengthAdjust="spacingAndGlyphs">80h</text>
<g id="pi" stroke="#111" stroke-width="1.8">
<line x1="109.6" y1="360.0" x2="109.6" y2="373.7"/>
<line x1="149.0" y1="362.6" x2="149.0" y2="376.6"/>
<line x1="228.7" y1="362.6" x2="228.7" y2="376.6"/>
<line x1="293.8" y1="362.6" x2="293.8" y2="376.6"/>
<line x1="332.0" y1="362.6" x2="332.0" y2="376.6"/>
<line x1="362.6" y1="362.6" x2="362.6" y2="376.6"/>
<line x1="412.5" y1="362.6" x2="412.5" y2="376.6"/>
<line x1="469.6" y1="360.0" x2="469.6" y2="374.0"/>
<line x1="510.2" y1="361.5" x2="510.2" y2="376.0"/>
<line x1="588.7" y1="361.5" x2="588.7" y2="376.0"/>
<line x1="654.2" y1="361.5" x2="654.2" y2="376.0"/>
<line x1="692.6" y1="361.5" x2="692.6" y2="376.0"/>
<line x1="722.3" y1="361.5" x2="722.3" y2="376.0"/>
<line x1="772.4" y1="361.5" x2="772.4" y2="376.0"/>
<line x1="832.1" y1="359.5" x2="832.1" y2="374.7"/>
<line x1="872.4" y1="360.5" x2="872.4" y2="376.4"/>
<line x1="951.4" y1="360.5" x2="951.4" y2="376.4"/>
<line x1="1016.4" y1="360.5" x2="1016.4" y2="376.4"/>
<line x1="1055.4" y1="360.5" x2="1055.4" y2="376.4"/>
<line x1="1085.6" y1="360.5" x2="1085.6" y2="376.4"/>
<line x1="1135.0" y1="360.5" x2="1135.0" y2="376.4"/>
</g>
<g id="pilab" text-anchor="middle">
<text class="b" x="110.7" y="397.6" font-size="17.2px">3</text>
<text class="b" x="152.2" y="397.6" font-size="17.2px">5</text>
<text class="b" x="229.8" y="397.6" font-size="17.2px">6</text>
<text class="b" x="295.6" y="397.6" font-size="17.2px">7</text>
<text class="b" x="333.5" y="397.6" font-size="17.2px">8</text>
<text class="b" x="362.6" y="397.6" font-size="17.2px">9</text>
<text class="b" x="412.5" y="397.6" font-size="17.2px">11</text>
<text class="b" x="470.6" y="398.2" font-size="17.2px">3</text>
<text class="b" x="512.0" y="398.2" font-size="17.2px">5</text>
<text class="b" x="590.3" y="398.2" font-size="17.2px">6</text>
<text class="b" x="655.8" y="398.2" font-size="17.2px">7</text>
<text class="b" x="693.2" y="398.2" font-size="17.2px">8</text>
<text class="b" x="723.3" y="398.2" font-size="17.2px">9</text>
<text class="b" x="773.0" y="398.2" font-size="17.2px">11</text>
<text class="b" x="832.7" y="397.5" font-size="17.2px">3</text>
<text class="b" x="874.0" y="397.5" font-size="17.2px">5</text>
<text class="b" x="952.0" y="397.5" font-size="17.2px">6</text>
<text class="b" x="1018.0" y="397.5" font-size="17.2px">7</text>
<text class="b" x="1056.0" y="397.5" font-size="17.2px">8</text>
<text class="b" x="1085.6" y="397.5" font-size="17.2px">9</text>
<text class="b" x="1135.0" y="397.5" font-size="17.2px">11</text>
</g>
<text class="b" x="1155.0" y="397.5" font-size="16.5px" textLength="26" lengthAdjust="spacingAndGlyphs">(pI)</text>
<g id="chart">
<path d="M306.5,838.0V837.2M301.9,837.2H311.1" stroke="#555" stroke-width="1.1" fill="none"/>
<rect x="294.5" y="838.5" width="24.0" height="2.3" fill="#808080" stroke="#383838" stroke-width="1"/>
<path d="M332.0,814.0V810.8M327.4,810.8H336.6" stroke="#555" stroke-width="1.1" fill="none"/>
<rect x="319.5" y="814.5" width="25.0" height="26.3" fill="#fff" stroke="#383838" stroke-width="1"/>
<path d="M357.5,836.0V833.8M352.9,833.8H362.1" stroke="#555" stroke-width="1.1" fill="none"/>
<rect x="345.5" y="836.5" width="24.0" height="4.3" fill="url(#hb)" stroke="#383838" stroke-width="1"/>
<path d="M382.5,812.0V808.8M377.9,808.8H387.1" stroke="#555" stroke-width="1.1" fill="none"/>
<rect x="370.5" y="812.5" width="24.0" height="28.3" fill="#e4e4e4" stroke="#383838" stroke-width="1"/>
<path d="M408.0,745.0V739.3M403.4,739.3H412.6" stroke="#555" stroke-width="1.1" fill="none"/>
<rect x="395.0" y="745.0" width="26.0" height="95.8" fill="#000"/>
<path d="M433.5,824.0V817.5M428.9,817.5H438.1" stroke="#555" stroke-width="1.1" fill="none"/>
<rect x="421.5" y="824.5" width="24.0" height="16.3" fill="url(#hw)" stroke="#383838" stroke-width="1"/>
<rect x="446.5" y="840.5" width="24.0" height="0.3" fill="#404040" stroke="#383838" stroke-width="1"/>
<path d="M543.0,732.0V725.5M538.4,725.5H547.6" stroke="#555" stroke-width="1.1" fill="none"/>
<rect x="530.5" y="732.5" width="25.0" height="108.3" fill="#808080" stroke="#383838" stroke-width="1"/>
<path d="M568.5,642.0V611.3M563.9,611.3H573.1" stroke="#555" stroke-width="1.1" fill="none"/>
<rect x="556.5" y="642.5" width="24.0" height="198.3" fill="#fff" stroke="#383838" stroke-width="1"/>
<path d="M593.5,741.0V711.3M588.9,711.3H598.1" stroke="#555" stroke-width="1.1" fill="none"/>
<rect x="581.5" y="741.5" width="24.0" height="99.3" fill="url(#hb)" stroke="#383838" stroke-width="1"/>
<path d="M619.0,708.0V694.5M614.4,694.5H623.6" stroke="#555" stroke-width="1.1" fill="none"/>
<rect x="606.5" y="708.5" width="25.0" height="132.3" fill="#e4e4e4" stroke="#383838" stroke-width="1"/>
<path d="M644.5,548.0V540.0M639.9,540.0H649.1" stroke="#555" stroke-width="1.1" fill="none"/>
<rect x="632.0" y="548.0" width="25.0" height="292.8" fill="#000"/>
<path d="M669.5,806.0V795.0M664.9,795.0H674.1" stroke="#555" stroke-width="1.1" fill="none"/>
<rect x="657.5" y="806.5" width="24.0" height="34.3" fill="url(#hw)" stroke="#383838" stroke-width="1"/>
<path d="M695.0,770.0V768.6M690.4,768.6H699.6" stroke="#555" stroke-width="1.1" fill="none"/>
<rect x="682.5" y="770.5" width="25.0" height="70.3" fill="#404040" stroke="#383838" stroke-width="1"/>
<path d="M779.5,664.0V622.5M774.9,622.5H784.1" stroke="#555" stroke-width="1.1" fill="none"/>
<rect x="767.5" y="664.5" width="24.0" height="176.3" fill="#808080" stroke="#383838" stroke-width="1"/>
<path d="M804.5,754.0V740.8M799.9,740.8H809.1" stroke="#555" stroke-width="1.1" fill="none"/>
<rect x="792.5" y="754.5" width="24.0" height="86.3" fill="#fff" stroke="#383838" stroke-width="1"/>
<path d="M829.5,778.0V754.5M824.9,754.5H834.1" stroke="#555" stroke-width="1.1" fill="none"/>
<rect x="817.5" y="778.5" width="24.0" height="62.3" fill="url(#hb)" stroke="#383838" stroke-width="1"/>
<path d="M855.0,606.0V575.0M850.4,575.0H859.6" stroke="#555" stroke-width="1.1" fill="none"/>
<rect x="842.5" y="606.5" width="25.0" height="234.3" fill="#e4e4e4" stroke="#383838" stroke-width="1"/>
<path d="M880.5,498.0V481.3M875.9,481.3H885.1" stroke="#555" stroke-width="1.1" fill="none"/>
<rect x="868.0" y="498.0" width="25.0" height="342.8" fill="#000"/>
<path d="M905.5,790.0V773.8M900.9,773.8H910.1" stroke="#555" stroke-width="1.1" fill="none"/>
<rect x="893.5" y="790.5" width="24.0" height="50.3" fill="url(#hw)" stroke="#383838" stroke-width="1"/>
<path d="M931.0,785.0V774.0M926.4,774.0H935.6" stroke="#555" stroke-width="1.1" fill="none"/>
<rect x="918.5" y="785.5" width="25.0" height="55.3" fill="#404040" stroke="#383838" stroke-width="1"/>
<rect x="630" y="558.6" width="29" height="5.2" fill="#fff"/>
<rect x="866" y="558.2" width="29" height="5.2" fill="#fff"/>
<text x="695.2" y="784.4" text-anchor="middle" font-family="Liberation Sans,Arial,sans-serif" font-weight="bold" font-size="10px" fill="#fff" fill-opacity="0.9" textLength="16.5" lengthAdjust="spacing">***</text>
<text x="695.2" y="797.6" text-anchor="middle" font-family="Liberation Sans,Arial,sans-serif" font-weight="bold" font-size="10px" fill="#fff" fill-opacity="0.9" textLength="16.5" lengthAdjust="spacing">***</text>
<text x="695.2" y="811.4" text-anchor="middle" font-family="Liberation Sans,Arial,sans-serif" font-weight="bold" font-size="10px" fill="#fff" fill-opacity="0.9" textLength="16.5" lengthAdjust="spacing">***</text>
<text x="695.2" y="824.9" text-anchor="middle" font-family="Liberation Sans,Arial,sans-serif" font-weight="bold" font-size="10px" fill="#fff" fill-opacity="0.9" textLength="16.5" lengthAdjust="spacing">***</text>
<text x="695.2" y="838.6" text-anchor="middle" font-family="Liberation Sans,Arial,sans-serif" font-weight="bold" font-size="10px" fill="#fff" fill-opacity="0.9" textLength="16.5" lengthAdjust="spacing">***</text>
<text x="929.4" y="800.6" text-anchor="middle" font-family="Liberation Sans,Arial,sans-serif" font-weight="bold" font-size="10px" fill="#fff" fill-opacity="0.9" textLength="16.5" lengthAdjust="spacing">***</text>
<text x="929.4" y="814.4" text-anchor="middle" font-family="Liberation Sans,Arial,sans-serif" font-weight="bold" font-size="10px" fill="#fff" fill-opacity="0.9" textLength="16.5" lengthAdjust="spacing">***</text>
<text x="929.4" y="828.1" text-anchor="middle" font-family="Liberation Sans,Arial,sans-serif" font-weight="bold" font-size="10px" fill="#fff" fill-opacity="0.9" textLength="16.5" lengthAdjust="spacing">***</text>
<text x="929.4" y="841.9" text-anchor="middle" font-family="Liberation Sans,Arial,sans-serif" font-weight="bold" font-size="10px" fill="#fff" fill-opacity="0.9" textLength="16.5" lengthAdjust="spacing">***</text>
<path d="M264.6,467.5H973.8V840.8H257.5M264.6,466.5V840.8" stroke="#000" stroke-width="1.8" fill="none" stroke-linecap="square"/>
<line x1="257.5" y1="467.5" x2="264.6" y2="467.5" stroke="#000" stroke-width="1.5"/>
<line x1="257.5" y1="618.6" x2="264.6" y2="618.6" stroke="#000" stroke-width="1.5"/>
<line x1="257.5" y1="730" x2="264.6" y2="730" stroke="#000" stroke-width="1.5"/>
<line x1="257.5" y1="840.8" x2="264.6" y2="840.8" stroke="#000" stroke-width="1.5"/>
<line x1="382.5" y1="840.8" x2="382.5" y2="846.3" stroke="#333" stroke-width="1.3"/>
<line x1="619.3" y1="840.8" x2="619.3" y2="846.3" stroke="#333" stroke-width="1.3"/>
<line x1="855" y1="840.8" x2="855" y2="846.3" stroke="#333" stroke-width="1.3"/>
<polygon points="250,569.7 279,548.3 279,552.6999999999999 250,574.1" fill="#fff"/>
<path d="M250,569.7L279,548.3M250,574.2L279,552.8" stroke="#555" stroke-width="1" fill="none"/>
<polygon points="959,569.2 988.6,548 988.6,552.4 959,573.6" fill="#fff"/>
<path d="M959,569.2L988.6,548M959,573.7L988.6,552.5" stroke="#555" stroke-width="1" fill="none"/>
<text class="s" x="225.6" y="473.2" font-size="14.5px" textLength="17.6" lengthAdjust="spacingAndGlyphs">80</text>
<text class="s" x="225.3" y="559.8" font-size="14.5px" textLength="17.7" lengthAdjust="spacingAndGlyphs">60</text>
<text class="s" x="225.6" y="624.7" font-size="14.5px" textLength="17.6" lengthAdjust="spacingAndGlyphs">20</text>
<text class="s" x="226.3" y="735.8" font-size="14.5px" textLength="17" lengthAdjust="spacingAndGlyphs">10</text>
<text class="s" x="235.0" y="846.5" font-size="14.5px" textLength="8.6" lengthAdjust="spacingAndGlyphs">0</text>
<text class="s" x="377.3" y="867.6" font-size="14px" textLength="9" lengthAdjust="spacingAndGlyphs">0</text>
<text class="s" x="608.0" y="867.6" font-size="14px" textLength="18.6" lengthAdjust="spacingAndGlyphs">15</text>
<text class="s" x="843.1" y="867.6" font-size="14px" textLength="19.4" lengthAdjust="spacingAndGlyphs">80</text>
<text class="b" x="558.0" y="900.8" font-size="18px" textLength="73.8" lengthAdjust="spacingAndGlyphs">Time (h)</text>
<g transform="translate(203.3,798.8) rotate(-90) scale(1,1.19)"><text class="b" font-size="21px" x="0" y="0" textLength="249.5" lengthAdjust="spacingAndGlyphs">Relative carbonylation levels</text><text class="b" font-size="21px" x="255.5" y="0" textLength="58" lengthAdjust="spacingAndGlyphs">(C<tspan font-size="14px" dy="3">I</tspan><tspan dy="-3">/P</tspan><tspan font-size="14px" dy="3">I</tspan><tspan dy="-3">)</tspan></text></g>
<rect x="298.5" y="503.5" width="31.5" height="9.5" fill="#808080" stroke="#444" stroke-width="1"/>
<text class="b" font-size="13px" x="338" y="513.8" transform="translate(338 0) scale(1.09 1) translate(-338 0)">Oxidative stress and mitochondrial metabolism</text>
<rect x="298.5" y="518.0" width="31.5" height="9.5" fill="#fff" stroke="#444" stroke-width="1"/>
<text class="b" font-size="13px" x="338" y="528.3" transform="translate(338 0) scale(1.09 1) translate(-338 0)">Heat shock proteins (HSPs)</text>
<rect x="298.5" y="532.5" width="31.5" height="9.5" fill="#000" stroke="#222" stroke-width="1"/>
<line x1="301.0" y1="540.2" x2="316.0" y2="533.8" stroke="#fff" stroke-width="1.5"/>
<line x1="306.5" y1="540.8" x2="321.5" y2="534.4" stroke="#fff" stroke-width="1.5"/>
<line x1="312.0" y1="541.4" x2="327.0" y2="535.0" stroke="#fff" stroke-width="1.5"/>
<text class="b" font-size="13px" x="338" y="542.8" transform="translate(338 0) scale(1.09 1) translate(-338 0)">ATP Metabolism</text>
<rect x="298.5" y="546.8" width="31.5" height="9.5" fill="#e4e4e4" stroke="#444" stroke-width="1"/>
<text class="b" font-size="13px" x="338" y="557.1" transform="translate(338 0) scale(1.09 1) translate(-338 0)">Tricarboxilic acid cycle</text>
<rect x="298.5" y="561.2" width="31.5" height="9.5" fill="#000" stroke="#444" stroke-width="1"/>
<text class="b" font-size="13px" x="338" y="571.5" transform="translate(338 0) scale(1.09 1) translate(-338 0)">Glycolysis and Fermentation</text>
<rect x="298.5" y="575.5" width="31.5" height="9.5" fill="#fff" stroke="#222" stroke-width="1"/>
<line x1="301.0" y1="583.2" x2="316.0" y2="576.8" stroke="#000" stroke-width="1.5"/>
<line x1="306.5" y1="583.8" x2="321.5" y2="577.4" stroke="#000" stroke-width="1.5"/>
<line x1="312.0" y1="584.4" x2="327.0" y2="578.0" stroke="#000" stroke-width="1.5"/>
<text class="b" font-size="13px" x="338" y="585.8" transform="translate(338 0) scale(1.09 1) translate(-338 0)">Protein synthesis and aminoacid metabolism</text>
<rect x="298.5" y="590.0" width="31.5" height="9.5" fill="#404040" stroke="#444" stroke-width="1"/>
<text x="314.3" y="600.1" text-anchor="middle" font-family="Liberation Sans,Arial,sans-serif" font-weight="bold" font-size="10px" fill="#fff" textLength="14" lengthAdjust="spacing">***</text>
<text class="b" font-size="13px" x="338" y="600.3" transform="translate(338 0) scale(1.09 1) translate(-338 0)">Non identified proteins</text>
<text class="st" x="542.5" y="723.0" text-anchor="middle" textLength="19.2" lengthAdjust="spacing">**</text>
<text class="st" x="568.0" y="610.5" text-anchor="middle" textLength="19.2" lengthAdjust="spacing">**</text>
<text class="st" x="594.5" y="709.7" text-anchor="middle">*</text>
<text class="st" x="618.8" y="692.7" text-anchor="middle" textLength="19.2" lengthAdjust="spacing">**</text>
<text class="st" x="643.5" y="538.0" text-anchor="middle" textLength="19.2" lengthAdjust="spacing">**</text>
<text class="st" x="695.0" y="768.0" text-anchor="middle" textLength="19.2" lengthAdjust="spacing">**</text>
<text class="st" x="780.0" y="622.0" text-anchor="middle" textLength="19.2" lengthAdjust="spacing">**</text>
<text class="st" x="804.5" y="740.5" text-anchor="middle">*</text>
<text class="st" x="854.5" y="573.7" text-anchor="middle" textLength="19.2" lengthAdjust="spacing">**</text>
<text class="st" x="880.5" y="483.5" text-anchor="middle" textLength="19.2" lengthAdjust="spacing">**</text>
<text class="st" x="932.5" y="773.5" text-anchor="middle" textLength="19.2" lengthAdjust="spacing">**</text>
</g>
</svg></body></html>
